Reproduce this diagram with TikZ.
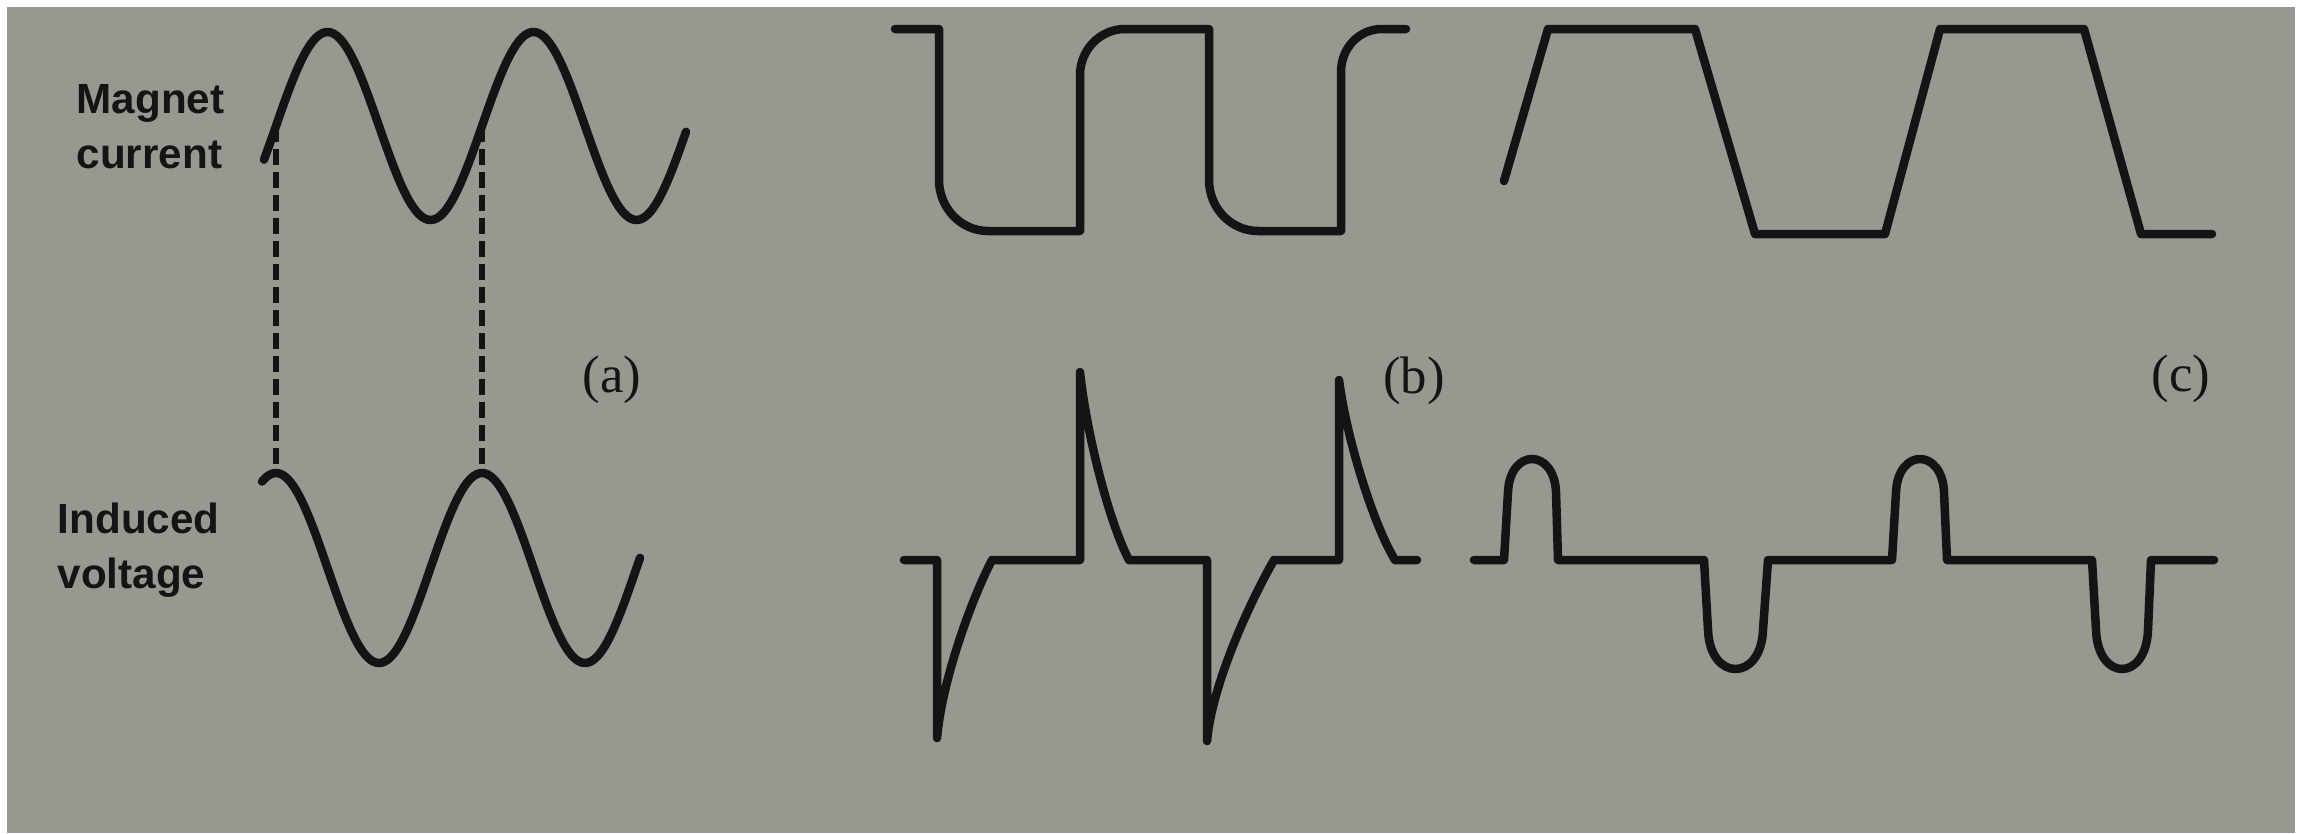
\documentclass[tikz,border=0pt]{standalone}
\usepackage{fontspec}
\setmainfont{Liberation Serif}
\setsansfont{Liberation Sans}
\definecolor{paper}{HTML}{97988F}
\definecolor{ink}{HTML}{141414}
\tikzset{
  wave/.style={draw=ink,line width=0.085cm,line join=round,line cap=round},
  guide/.style={draw=ink,line width=0.055cm,dash pattern=on 0.16cm off 0.07cm},
  axislabel/.style={font=\sffamily\bfseries\fontsize{12}{15.6}\selectfont,text=ink,align=left,inner sep=0pt,anchor=north west},
  partlabel/.style={font=\fontsize{15}{18}\selectfont,text=ink,inner sep=0pt},
}

\begin{document}
\begin{tikzpicture}[x=0.01cm,y=-0.01cm]
  \useasboundingbox (0,0) rectangle (2303,833);
  \fill[white] (0,0) rectangle (2303,833);
  \fill[paper] (7,7) rectangle (2295,833);

  \node[axislabel] (lblcurrent) at (76,84) {Magnet\\current};
  \node[axislabel] (lblvoltage) at (57,502) {Induced\\voltage};

  % (a) sine current and its derivative
  \draw[wave] plot[domain=264:686,samples=140,smooth] (\x,{126-94*sin((\x-276)/206*360)});
  \draw[wave] plot[domain=262:640,samples=140,smooth] (\x,{568-95*cos((\x-276)/206*360)});
  \coordinate (ia1) at (276,126);
  \coordinate (ia2) at (482,126);
  \coordinate (va1) at (276,473);
  \coordinate (va2) at (482,473);
  \draw[guide] (ia1) -- (va1);
  \draw[guide] (ia2) -- (va2);
  \node[partlabel] (parta) at (612,380) {(a)};

  % (b) square current, spiky voltage
  \draw[wave] (895,29) -- (939,29) -- (939,180) .. controls (939,208) and (961,231) .. (988,231) -- (1080,231)
    -- (1080,75) .. controls (1080,50) and (1100,29) .. (1125,29) -- (1209,29)
    -- (1209,180) .. controls (1209,208) and (1231,231) .. (1258,231) -- (1341,231)
    -- (1341,72) .. controls (1341,48) and (1359,29) .. (1382,29) -- (1406,29);
  \draw[wave] (904,560) -- (937,560) -- (937,738) .. controls (942,680) and (972,598) .. (992,560) -- (1080,560)
    -- (1080,372) .. controls (1086,430) and (1108,520) .. (1129,560) -- (1207,560)
    -- (1207,741) .. controls (1212,683) and (1252,598) .. (1274,560) -- (1339,560)
    -- (1339,380) .. controls (1346,435) and (1372,522) .. (1395,560) -- (1417,560);
  \node[partlabel] (partb) at (1414,381) {(b)};

  % (c) trapezoid current, pulse voltage
  \draw[wave] (1504,181) -- (1548,29) -- (1695,29) -- (1755,234) -- (1885,234) -- (1940,29)
    -- (2084,29) -- (2141,234) -- (2212,234);
  \draw[wave] (1474,560) -- (1504,560) -- (1508,492) .. controls (1510,448) and (1554,448) .. (1556,492) -- (1558,560)
    -- (1704,560) -- (1708,630) .. controls (1710,682) and (1761,682) .. (1763,630) -- (1768,560)
    -- (1892,560) -- (1896,492) .. controls (1898,448) and (1942,448) .. (1944,492) -- (1947,560)
    -- (2092,560) -- (2096,630) .. controls (2098,682) and (2146,682) .. (2148,630) -- (2151,560) -- (2214,560);
  \node[partlabel] (partc) at (2181,379) {(c)};
\end{tikzpicture}
\end{document}
